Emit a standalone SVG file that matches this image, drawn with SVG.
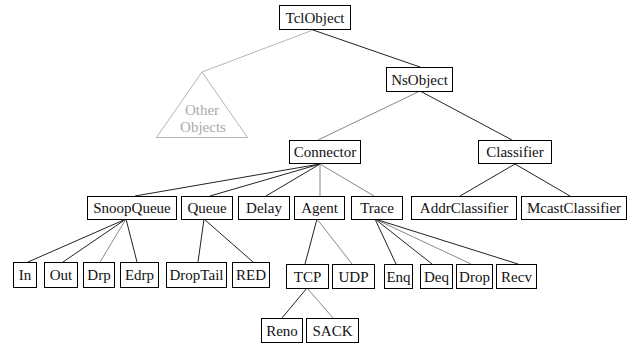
<svg xmlns="http://www.w3.org/2000/svg" width="634" height="345" viewBox="0 0 634 345">
<style>
.b rect{fill:#fff;stroke:#000;stroke-width:1}
.c line{stroke:#222;stroke-width:1}
.c line.g{stroke:#888}
.c line.lg{stroke:#b4b4b4}
</style>
<rect width="634" height="345" fill="#fff"/>
<g font-family="Liberation Serif, serif" font-size="15" text-anchor="middle" fill="#111">
<g class="c" id="connectors">
<line class="lg" x1="313" y1="30" x2="202" y2="72"/>
<line x1="313" y1="30" x2="420" y2="67"/>
<line class="g" x1="420" y1="91" x2="318" y2="140"/>
<line x1="420" y1="91" x2="512" y2="140"/>
<line x1="320" y1="164" x2="135" y2="196"/>
<line x1="320" y1="164" x2="210" y2="196"/>
<line x1="320" y1="164" x2="266" y2="196"/>
<line class="g" x1="320" y1="164" x2="320" y2="196"/>
<line class="g" x1="320" y1="164" x2="374" y2="196"/>
<line x1="515" y1="164" x2="460" y2="196"/>
<line x1="515" y1="164" x2="570" y2="196"/>
<line x1="126" y1="219" x2="28" y2="262"/>
<line x1="126" y1="219" x2="63" y2="262"/>
<line class="g" x1="126" y1="219" x2="100" y2="262"/>
<line x1="126" y1="219" x2="137" y2="262"/>
<line x1="204" y1="219" x2="198" y2="262"/>
<line x1="204" y1="219" x2="253" y2="262"/>
<line x1="317" y1="219" x2="305" y2="264"/>
<line class="g" x1="317" y1="219" x2="352" y2="264"/>
<line x1="375" y1="219" x2="396" y2="264"/>
<line x1="375" y1="219" x2="432" y2="264"/>
<line class="g" x1="375" y1="219" x2="471" y2="264"/>
<line x1="375" y1="219" x2="518" y2="264"/>
<line x1="307" y1="288" x2="282" y2="318"/>
<line class="g" x1="307" y1="288" x2="333" y2="318"/>
</g>
<g id="other-objects" fill="#aaa">
<polygon points="202,72 156.5,137.5 247.5,137.5" fill="none" stroke="#b4b4b4" stroke-width="1"/>
<text x="202" y="115">Other</text>
<text x="203" y="132">Objects</text>
</g>
<g class="b" id="TclObject"><rect x="279.5" y="5.5" width="71" height="24"/><text x="315" y="23">TclObject</text></g>
<g class="b" id="NsObject"><rect x="386.5" y="67.5" width="66" height="24"/><text x="419.5" y="85">NsObject</text></g>
<g class="b" id="Connector"><rect x="289.5" y="140.5" width="71" height="23"/><text x="325" y="157">Connector</text></g>
<g class="b" id="Classifier"><rect x="478.5" y="140.5" width="73" height="23"/><text x="515" y="157">Classifier</text></g>
<g class="b" id="SnoopQueue"><rect x="87.5" y="196.5" width="89" height="23"/><text x="132" y="213">SnoopQueue</text></g>
<g class="b" id="Queue"><rect x="181.5" y="196.5" width="51" height="23"/><text x="207" y="213">Queue</text></g>
<g class="b" id="Delay"><rect x="238.5" y="196.5" width="51" height="23"/><text x="264" y="213">Delay</text></g>
<g class="b" id="Agent"><rect x="294.5" y="196.5" width="50" height="23"/><text x="319.5" y="213">Agent</text></g>
<g class="b" id="Trace"><rect x="351.5" y="196.5" width="51" height="23"/><text x="377" y="213">Trace</text></g>
<g class="b" id="AddrClassifier"><rect x="411.5" y="196.5" width="105" height="23"/><text x="464" y="213">AddrClassifier</text></g>
<g class="b" id="McastClassifier"><rect x="521.5" y="196.5" width="105" height="23"/><text x="574" y="213">McastClassifier</text></g>
<g class="b" id="In"><rect x="13.5" y="262.5" width="23" height="25"/><text x="25" y="280">In</text></g>
<g class="b" id="Out"><rect x="44.5" y="262.5" width="33" height="25"/><text x="61" y="280">Out</text></g>
<g class="b" id="Drp"><rect x="83.5" y="262.5" width="31" height="25"/><text x="99" y="280">Drp</text></g>
<g class="b" id="Edrp"><rect x="120.5" y="262.5" width="38" height="25"/><text x="139.5" y="280">Edrp</text></g>
<g class="b" id="DropTail"><rect x="166.5" y="262.5" width="60" height="25"/><text x="196.5" y="280">DropTail</text></g>
<g class="b" id="RED"><rect x="232.5" y="262.5" width="37" height="25"/><text x="251" y="280">RED</text></g>
<g class="b" id="TCP"><rect x="286.5" y="264.5" width="42" height="24"/><text x="307.5" y="282">TCP</text></g>
<g class="b" id="UDP"><rect x="332.5" y="264.5" width="42" height="24"/><text x="353.5" y="282">UDP</text></g>
<g class="b" id="Enq"><rect x="384.5" y="264.5" width="28" height="24"/><text x="398.5" y="282">Enq</text></g>
<g class="b" id="Deq"><rect x="420.5" y="264.5" width="32" height="24"/><text x="436.5" y="282">Deq</text></g>
<g class="b" id="Drop"><rect x="456.5" y="264.5" width="36" height="24"/><text x="474.5" y="282">Drop</text></g>
<g class="b" id="Recv"><rect x="496.5" y="264.5" width="40" height="24"/><text x="516.5" y="282">Recv</text></g>
<g class="b" id="Reno"><rect x="261.5" y="318.5" width="41" height="24"/><text x="282" y="336">Reno</text></g>
<g class="b" id="SACK"><rect x="306.5" y="318.5" width="52" height="24"/><text x="332.5" y="336">SACK</text></g>
</g>
</svg>
